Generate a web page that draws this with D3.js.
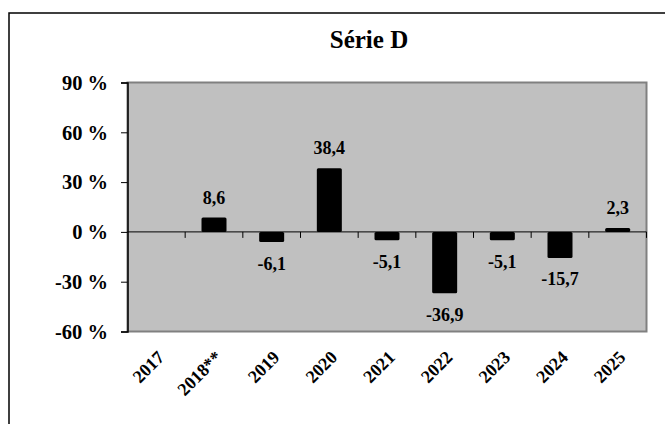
<!DOCTYPE html>
<html>
<head>
<meta charset="utf-8">
<script src="https://cdnjs.cloudflare.com/ajax/libs/d3/7.8.5/d3.min.js"></script>
<style>
  body { margin: 0; background: #fff; }
  svg text { font-family: "Liberation Serif", "Times New Roman", serif; font-weight: bold; fill: #000; }
</style>
</head>
<body>
<div id="chart"></div>
<script>
var title = "Série D";
var years = ["2017", "2018**", "2019", "2020", "2021", "2022", "2023", "2024", "2025"];
var values = [null, 8.6, -6.1, 38.4, -5.1, -36.9, -5.1, -15.7, 2.3];
var yTicks = [90, 60, 30, 0, -30, -60];

var width = 665, height = 424;
var plot = {left: 127.5, right: 646.5, top: 82.5, bottom: 331.5};

var svg = d3.select("#chart").append("svg")
    .attr("width", width)
    .attr("height", height);

// outer frame (runs off the bottom and right of the picture)
svg.append("rect")
    .attr("x", 9).attr("y", 13)
    .attr("width", 700).attr("height", 440)
    .attr("fill", "#fff")
    .attr("stroke", "#000")
    .attr("stroke-width", 1.5);

svg.append("text")
    .attr("x", 369).attr("y", 48)
    .attr("text-anchor", "middle")
    .style("font-size", "25px")
    .text(title);

var x = d3.scaleBand()
    .domain(years)
    .range([plot.left, plot.right])
    .paddingInner(0)
    .paddingOuter(0);

var y = d3.scaleLinear()
    .domain([-60, 90])
    .range([plot.bottom, plot.top]);

// plot area
svg.append("rect")
    .attr("x", plot.left).attr("y", plot.top)
    .attr("width", plot.right - plot.left)
    .attr("height", plot.bottom - plot.top)
    .attr("fill", "#c0c0c0")
    .attr("stroke", "#808080")
    .attr("stroke-width", 2);

// y axis
var yAxis = svg.append("g")
    .attr("transform", "translate(" + plot.left + ",0)")
    .call(d3.axisLeft(y).tickValues(yTicks).tickSize(6.5).tickPadding(13)
      .tickFormat(function(d) { return d + " %"; }));
yAxis.select(".domain").attr("stroke", "#000").attr("stroke-width", 1.5);
yAxis.selectAll(".tick line").attr("stroke", "#000");
yAxis.selectAll(".tick text")
    .attr("dy", "0.33em")
    .style("font-size", "20.5px");

// zero line with category ticks
var boundaries = years.map(function(d) { return x(d) + x.bandwidth(); });
svg.append("line")
    .attr("x1", plot.left).attr("x2", plot.right)
    .attr("y1", y(0)).attr("y2", y(0))
    .attr("stroke", "#000");
svg.selectAll(".xtick")
    .data(boundaries)
  .enter().append("line")
    .attr("class", "xtick")
    .attr("x1", function(d) { return d; })
    .attr("x2", function(d) { return d; })
    .attr("y1", y(0)).attr("y2", y(0) + 6)
    .attr("stroke", "#000");

// bars
var barW = 25;
var data = years.map(function(d, i) { return {year: d, value: values[i]}; })
    .filter(function(d) { return d.value !== null; });

svg.selectAll(".bar")
    .data(data)
  .enter().append("rect")
    .attr("class", "bar")
    .attr("x", function(d) { return x(d.year) + x.bandwidth() / 2 - barW / 2; })
    .attr("y", function(d) { return y(Math.max(0, d.value)); })
    .attr("width", barW)
    .attr("height", function(d) { return Math.abs(y(d.value) - y(0)); })
    .attr("rx", 1.5)
    .attr("fill", "#000");

svg.selectAll(".val")
    .data(data)
  .enter().append("text")
    .attr("class", "val")
    .attr("x", function(d) { return x(d.year) + x.bandwidth() / 2; })
    .attr("y", function(d) { return d.value >= 0 ? y(d.value) - 14 : y(d.value) + 27.5; })
    .attr("text-anchor", "middle")
    .style("font-size", "18px")
    .text(function(d) { return d.value.toFixed(1).replace(".", ","); });

// category labels
svg.selectAll(".xlab")
    .data(years)
  .enter().append("text")
    .attr("class", "xlab")
    .attr("transform", function(d) {
      return "translate(" + (x(d) + x.bandwidth() / 2 + 9) + "," + (plot.bottom + 27) + ") rotate(-45)";
    })
    .attr("text-anchor", "end")
    .style("font-size", "18px")
    .text(function(d) { return d; });
</script>
</body>
</html>
